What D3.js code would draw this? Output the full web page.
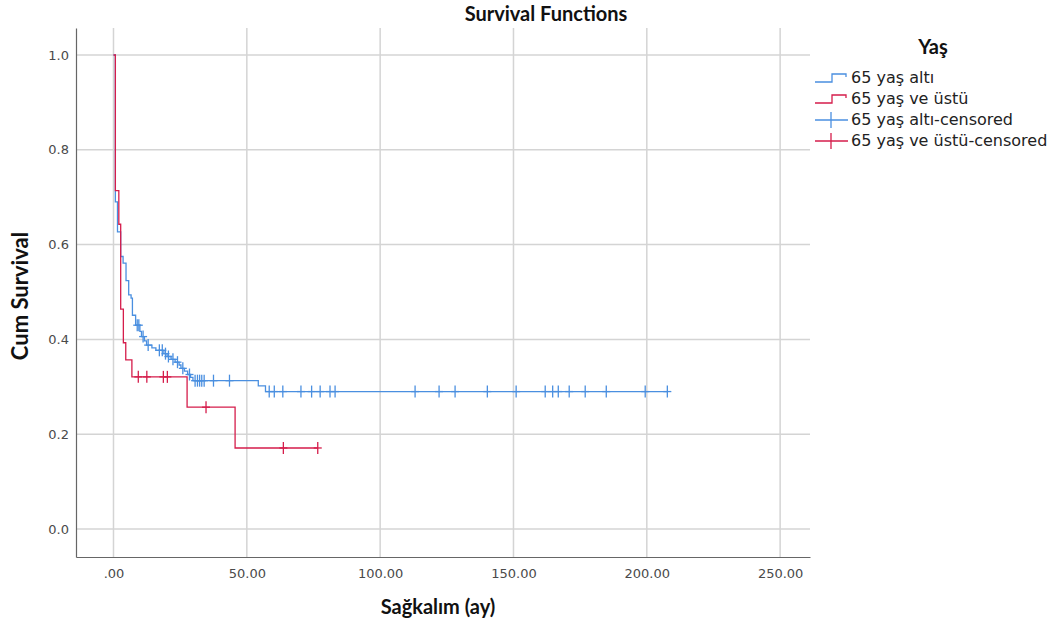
<!DOCTYPE html>
<html>
<head>
<meta charset="utf-8">
<script src="https://cdn.jsdelivr.net/npm/d3@7"></script>
<style>
body{margin:0;background:#fff;}
svg{display:block;}
</style>
</head>
<body>
<svg></svg>
<script>
var width = 1061, height = 625;

// chart values
var xTicks = [0, 50, 100, 150, 200, 250];
var yTicks = [0, 0.2, 0.4, 0.6, 0.8, 1.0];
var groups = ["65 yaş altı", "65 yaş ve üstü"];

// 65 yaş altı: event times (months) and survival after each
var blueTimes = [0.7, 1.5, 2.7, 3.6, 4.7, 5.7, 6.6, 7.1, 8.3, 9.9, 10.5, 11.6, 12.4, 14.4, 15.9, 18.9, 20.1, 21.6, 23.1, 24.6, 25.3, 26.6, 27.8, 28.9, 29.8, 54.3, 57.0];
var blueSurv = [0.690, 0.627, 0.575, 0.561, 0.524, 0.494, 0.487, 0.451, 0.430, 0.417, 0.406, 0.397, 0.388, 0.382, 0.377, 0.370, 0.364, 0.358, 0.352, 0.346, 0.339, 0.333, 0.326, 0.320, 0.313, 0.302, 0.290];
var blueCensor = [8.9, 9.5, 11.1, 13.0, 17.2, 18.3, 19.5, 20.6, 22.3, 24.0, 26.0, 28.5, 30.6, 31.5, 32.3, 33.1, 34.0, 37.5, 43.5, 58.4, 60.3, 63.5, 70.3, 74.3, 77.5, 81.2, 83.1, 113.1, 122.1, 128.1, 140.2, 151.0, 161.9, 164.7, 166.8, 170.9, 176.9, 184.8, 199.4, 207.7];

// 65 yaş ve üstü
var redTimes = [0.7, 2.0, 2.7, 3.7, 4.6, 6.9, 27.6, 45.6];
var redSurv = [0.714, 0.643, 0.464, 0.393, 0.357, 0.321, 0.257, 0.171];
var redCensor = [9.3, 12.5, 18.7, 20.2, 34.7, 63.7, 76.6];

var colors = ["#4a8fe0", "#d51d4b"];

var svg = d3.select("svg").attr("width", width).attr("height", height);

var margin = {left: 76, right: 810, top: 28, bottom: 557};
var x = d3.scaleLinear().domain([-14.06, 261.2]).range([margin.left, margin.right]);
var y = d3.scaleLinear().domain([-0.059, 1.057]).range([margin.bottom, margin.top]);

// gridlines
var grid = svg.append("g");
grid.selectAll("line.gx").data(xTicks).enter().append("line")
    .attr("x1", function (d) { return x(d); })
    .attr("x2", function (d) { return x(d); })
    .attr("y1", margin.top).attr("y2", margin.bottom)
    .style("stroke", "#d4d4d4").style("stroke-width", 1.5);
grid.selectAll("line.gy").data(yTicks).enter().append("line")
    .attr("x1", margin.left).attr("x2", margin.right)
    .attr("y1", function (d) { return y(d); })
    .attr("y2", function (d) { return y(d); })
    .style("stroke", "#d4d4d4").style("stroke-width", 1.5);

// axes
var xAxis = d3.axisBottom(x).tickValues(xTicks).tickSize(0).tickPadding(10)
    .tickFormat(function (d) { return d === 0 ? ".00" : d.toFixed(2); });
var yAxis = d3.axisLeft(y).tickValues(yTicks).tickSize(0).tickPadding(7)
    .tickFormat(function (d) { return d.toFixed(1); });

var gx = svg.append("g").attr("transform", "translate(0," + margin.bottom + ")").call(xAxis);
var gy = svg.append("g").attr("transform", "translate(" + margin.left + ",0)").call(yAxis);
[gx, gy].forEach(function (g) {
    g.select(".domain").style("stroke", "#666").style("stroke-width", 1.2);
    g.selectAll("text").style("font-family", "DejaVu Sans, sans-serif")
        .style("font-size", "13px").style("fill", "#4a4a4a");
});
gx.selectAll("text").attr("dy", "0.85em");

function survAt(times, surv, t) {
    var s = 1;
    for (var i = 0; i < times.length; i++) {
        if (times[i] <= t) s = surv[i];
    }
    return s;
}

var stepLine = d3.line()
    .x(function (d) { return x(d[0]); })
    .y(function (d) { return y(d[1]); })
    .curve(d3.curveStepAfter);

var series = [
    {times: blueTimes, surv: blueSurv, censor: blueCensor},
    {times: redTimes, surv: redSurv, censor: redCensor}
];

series.forEach(function (s, i) {
    var pts = [[0, 1]];
    s.times.forEach(function (t, j) { pts.push([t, s.surv[j]]); });
    var tEnd = d3.max(s.censor.concat(s.times));
    pts.push([tEnd, s.surv[s.surv.length - 1]]);
    svg.append("path").datum(pts)
        .attr("d", stepLine)
        .style("fill", "none")
        .style("stroke", colors[i])
        .style("stroke-width", 1.3);
    var marks = svg.append("g").selectAll("g").data(s.censor).enter().append("g")
        .attr("transform", function (t) {
            return "translate(" + x(t) + "," + y(survAt(s.times, s.surv, t)) + ")";
        });
    marks.append("line").attr("x1", 0).attr("x2", 0).attr("y1", -6).attr("y2", 6)
        .style("stroke", colors[i]).style("stroke-width", 1.3);
    marks.append("line").attr("x1", -4).attr("x2", 4).attr("y1", 0).attr("y2", 0)
        .style("stroke", colors[i]).style("stroke-width", 1.3);
});

// title and axis labels
svg.append("text").attr("x", 546).attr("y", 21).attr("text-anchor", "middle")
    .style("font-family", "Lato, sans-serif").style("font-weight", "bold")
    .style("font-size", "20px").style("fill", "#111").text("Survival Functions");
svg.append("text").attr("x", 438).attr("y", 614).attr("text-anchor", "middle")
    .style("font-family", "Lato, sans-serif").style("font-weight", "bold")
    .style("font-size", "20px").style("fill", "#111").text("Sağkalım (ay)");
svg.append("text").attr("transform", "translate(28,296) rotate(-90)").attr("text-anchor", "middle")
    .style("font-family", "Lato, sans-serif").style("font-weight", "bold")
    .style("font-size", "22px").style("fill", "#111").text("Cum Survival");

// legend
var legend = svg.append("g");
legend.append("text").attr("x", 933).attr("y", 54).attr("text-anchor", "middle")
    .style("font-family", "Lato, sans-serif").style("font-weight", "bold")
    .style("font-size", "20px").style("fill", "#111").text("Yaş");
var items = groups.concat(groups.map(function (g) { return g + "-censored"; }));
items.forEach(function (label, k) {
    var cy = 78 + k * 21;
    var c = colors[k % 2];
    var row = legend.append("g");
    if (k < 2) {
        row.append("path")
            .attr("d", "M815," + (cy + 4) + "H832V" + (cy - 4) + "H846V" + (cy - 1))
            .style("fill", "none").style("stroke", c).style("stroke-width", 1.3);
    } else {
        row.append("line").attr("x1", 815).attr("x2", 848).attr("y1", cy).attr("y2", cy)
            .style("stroke", c).style("stroke-width", 1.3);
        row.append("line").attr("x1", 831).attr("x2", 831).attr("y1", cy - 8).attr("y2", cy + 8)
            .style("stroke", c).style("stroke-width", 1.3);
    }
    row.append("text").attr("x", 851).attr("y", cy + 5)
        .style("font-family", "DejaVu Sans, sans-serif").style("font-size", "16px")
        .style("fill", "#222").text(label);
});
</script>
</body>
</html>
